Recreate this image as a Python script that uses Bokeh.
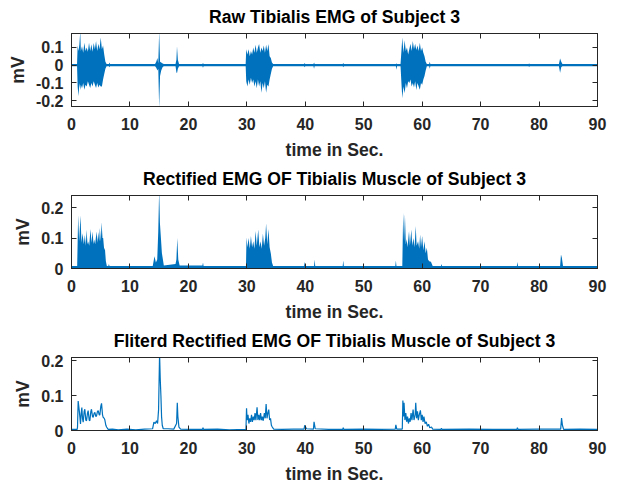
from bokeh.plotting import figure
from bokeh.layouts import column
from bokeh.models import Range1d, FixedTicker, LinearAxis, CustomLabelingPolicy
from bokeh.embed import file_html
from bokeh.resources import INLINE

# ---------------- data ----------------
x_ticks = [0, 10, 20, 30, 40, 50, 60, 70, 80, 90]

raw_yticks = [-0.2, -0.1, 0, 0.1]
raw_ylabels = ["-0.2", "-0.1", "0", "0.1"]
rect_yticks = [0, 0.1, 0.2]
rect_ylabels = ["0", "0.1", "0.2"]
filt_yticks = [0, 0.1, 0.2]
filt_ylabels = ["0", "0.1", "0.2"]

# raw EMG envelope: time, upper edge, lower edge (mV)
raw_t = [0, 0.95, 1.05, 1.2, 1.35, 1.5, 1.6, 1.8, 2.0, 2.2, 2.4, 2.6, 2.8, 3.0, 3.2, 3.4, 3.6, 3.8, 4.0, 4.2,
         4.4, 4.6, 4.8, 5.0, 5.2, 5.4, 5.6, 5.8, 6.0,
         6.4, 6.5, 6.6, 14.3, 14.5, 14.7, 14.85, 15.0, 15.15, 15.35, 15.6, 15.8, 17.8, 17.95, 18.05, 18.2, 18.4,
         22.4, 22.5, 22.6, 29.8,
         29.9, 30.1, 30.3, 30.5, 30.7, 30.9, 31.1, 31.3, 31.5, 31.7, 31.9, 32.1, 32.3, 32.5, 32.7, 32.9, 33.1,
         33.3, 33.5, 33.7, 33.9, 34.1, 34.3, 34.5,
         39.8, 39.9, 40.0, 41.4, 41.5, 41.6, 46.4, 46.5, 46.6, 55.5, 55.6, 55.7, 56.3,
         56.45, 56.6, 56.8, 57.0, 57.2, 57.4, 57.6, 57.8, 58.0, 58.2, 58.4, 58.6, 58.8, 59.0, 59.2, 59.4, 59.6,
         59.8, 60.0, 60.2, 60.4, 60.6, 60.8,
         61.2, 61.3, 61.4, 78.2, 78.3, 78.4, 83.4, 83.6, 83.8, 84.0, 90]
raw_hi = [0.006, 0.006, 0.11, 0.08, 0.117, 0.19, 0.08, 0.107, 0.07, 0.126, 0.08, 0.10, 0.075, 0.126, 0.08, 0.117,
          0.075, 0.125, 0.09, 0.136, 0.08, 0.12, 0.09, 0.155, 0.09, 0.11, 0.06, 0.02, 0.006,
          0.006, 0.015, 0.006, 0.006, 0.02, 0.04, 0.01, 0.19, 0.02, 0.015, 0.01, 0.006, 0.006, 0.03, 0.107, 0.03,
          0.006, 0.006, 0.012, 0.006, 0.006,
          0.09, 0.06, 0.09, 0.05, 0.08, 0.06, 0.10, 0.07, 0.115, 0.07, 0.10, 0.119, 0.07, 0.10, 0.08, 0.11, 0.07,
          0.115, 0.08, 0.119, 0.05, 0.04, 0.015, 0.006,
          0.006, 0.012, 0.006, 0.006, 0.015, 0.006, 0.006, 0.012, 0.006, 0.006, 0.01, 0.006, 0.006,
          0.08, 0.155, 0.07, 0.14, 0.08, 0.10, 0.06, 0.09, 0.12, 0.08, 0.136, 0.09, 0.12, 0.085, 0.11, 0.08, 0.126,
          0.08, 0.10, 0.07, 0.05, 0.02, 0.006,
          0.006, 0.02, 0.006, 0.006, 0.01, 0.006, 0.006, 0.038, 0.02, 0.006, 0.006]
raw_lo = [-0.006, -0.006, -0.12, -0.175, -0.10, -0.14, -0.11, -0.13, -0.10, -0.138, -0.11, -0.12, -0.09, -0.11,
          -0.128, -0.10, -0.12, -0.09, -0.11, -0.128, -0.10, -0.125, -0.11, -0.12, -0.12, -0.08, -0.05, -0.02, -0.006,
          -0.006, -0.012, -0.006, -0.006, -0.015, -0.03, -0.02, -0.24, -0.06, -0.03, -0.01, -0.006, -0.006, -0.04,
          -0.045, -0.02, -0.006, -0.006, -0.014, -0.006, -0.006,
          -0.09, -0.12, -0.08, -0.11, -0.07, -0.10, -0.08, -0.12, -0.09, -0.13, -0.08, -0.12, -0.09, -0.155, -0.10,
          -0.13, -0.09, -0.155, -0.11, -0.12, -0.08, -0.05, -0.02, -0.006,
          -0.006, -0.012, -0.006, -0.006, -0.02, -0.006, -0.006, -0.012, -0.006, -0.006, -0.025, -0.006, -0.006,
          -0.10, -0.185, -0.12, -0.157, -0.10, -0.13, -0.09, -0.10, -0.08, -0.12, -0.10, -0.125, -0.09, -0.14,
          -0.10, -0.12, -0.138, -0.10, -0.11, -0.08, -0.06, -0.03, -0.006,
          -0.006, -0.02, -0.006, -0.006, -0.01, -0.006, -0.006, -0.043, -0.01, -0.006, -0.006]

# rectified EMG upper edge (mV)
rect_t = [0, 0.97, 1.14, 1.31, 1.54, 1.71, 1.88, 2.11, 2.28, 2.45, 2.57, 2.74, 2.85, 3.03, 3.25, 3.42, 3.6, 3.77,
          3.88, 4.05, 4.28, 4.45, 4.57, 4.74, 4.85, 5.02, 5.14, 5.31, 5.42, 5.6, 5.71, 5.88, 6.05,
          6.3, 6.4, 6.5, 13.9, 14.2, 14.44, 14.67, 14.84, 15.0, 15.13, 15.3, 15.47, 15.64, 15.8, 17.8, 17.95, 18.1,
          18.27, 18.5, 22.4, 22.5, 22.6, 29.8,
          29.85, 29.95, 30.1, 30.3, 30.5, 30.7, 30.9, 31.1, 31.3, 31.5, 31.7, 31.95, 32.15, 32.35, 32.55, 32.75,
          32.95, 33.15, 33.3, 33.5, 33.7, 33.9, 34.1, 34.3, 34.5,
          39.8, 39.9, 40.0, 41.5, 41.6, 41.7, 46.4, 46.5, 46.6, 55.4, 55.5, 55.6, 56.6,
          56.75, 56.9, 57.05, 57.2, 57.35, 57.5, 57.75, 57.9, 58.15, 58.3, 58.5, 58.7, 58.9, 59.05, 59.3, 59.5,
          59.65, 59.8, 60.0, 60.2, 60.4, 60.6, 60.8, 61.0, 61.2, 61.5, 61.8,
          63.2, 63.3, 63.4, 76.2, 76.3, 76.4, 83.6, 83.75, 83.9, 84.1, 90]
rect_hi = [0.008, 0.008, 0.176, 0.09, 0.174, 0.085, 0.116, 0.08, 0.11, 0.075, 0.127, 0.08, 0.089, 0.075, 0.13,
           0.085, 0.122, 0.08, 0.095, 0.08, 0.122, 0.085, 0.12, 0.09, 0.133, 0.09, 0.152, 0.1, 0.1, 0.06, 0.068,
           0.024, 0.008,
           0.008, 0.015, 0.008, 0.008, 0.04, 0.02, 0.03, 0.12, 0.26, 0.15, 0.1, 0.05, 0.03, 0.01, 0.015, 0.03, 0.1,
           0.03, 0.01, 0.01, 0.02, 0.008, 0.008,
           0.008, 0.103, 0.07, 0.10, 0.065, 0.107, 0.07, 0.09, 0.065, 0.123, 0.075, 0.128, 0.07, 0.09, 0.065, 0.115,
           0.075, 0.10, 0.148, 0.08, 0.13, 0.07, 0.05, 0.02, 0.008,
           0.008, 0.022, 0.008, 0.008, 0.03, 0.008, 0.008, 0.026, 0.008, 0.008, 0.026, 0.008, 0.008,
           0.183, 0.09, 0.178, 0.08, 0.096, 0.07, 0.123, 0.075, 0.128, 0.075, 0.10, 0.07, 0.14, 0.075, 0.09, 0.065,
           0.112, 0.07, 0.107, 0.06, 0.09, 0.05, 0.068, 0.03, 0.024, 0.022, 0.008,
           0.008, 0.015, 0.008, 0.008, 0.021, 0.008, 0.008, 0.046, 0.035, 0.008, 0.008]

# filtered rectified EMG (mV)
filt_t = [0, 0.97, 1.03, 1.14, 1.31, 1.43, 1.54, 1.66, 1.77, 1.88, 2.0, 2.17, 2.28, 2.45, 2.57, 2.74, 2.85, 3.03,
          3.14, 3.31, 3.42, 3.6, 3.71, 3.88, 4.0, 4.17, 4.28, 4.45, 4.57, 4.74, 4.85, 5.02, 5.14, 5.31, 5.42, 5.6,
          5.71, 5.88, 6.0, 6.28,
          7.0, 8.0, 9.5, 11.0, 12.5, 13.87, 14.1, 14.33, 14.55, 14.73, 14.9, 15.07, 15.18, 15.3, 15.41, 15.53, 15.7,
          16.5, 17.5, 17.98, 18.1, 18.2, 18.38, 18.67, 20.5, 22.4, 22.5, 22.6, 25.0, 27.0, 29.85,
          29.95, 30.05, 30.2, 30.35, 30.5, 30.65, 30.8, 30.95, 31.1, 31.25, 31.4, 31.55, 31.75, 31.9, 32.05, 32.2,
          32.35, 32.5, 32.65, 32.8, 33.0, 33.15, 33.3, 33.45, 33.6, 33.75, 33.9, 34.05, 34.2, 34.35, 34.6,
          36.0, 38.0, 39.8, 39.9, 40.2, 41.4, 41.5, 41.7, 44.0, 46.4, 46.5, 46.6, 50.0, 53.0, 55.4, 55.5, 55.65, 56.6,
          56.7, 56.8, 56.9, 57.05, 57.2, 57.35, 57.5, 57.65, 57.8, 57.95, 58.1, 58.25, 58.45, 58.6, 58.8, 58.9,
          59.05, 59.2, 59.35, 59.5, 59.7, 59.85, 60.0, 60.15, 60.3, 60.5, 60.7, 60.9, 61.1, 61.3, 61.6, 61.8,
          63.2, 63.3, 63.4, 68.0, 72.0, 76.2, 76.3, 76.4, 80.0, 83.7, 83.85, 84.0, 84.2, 87.0, 90]
filt_v = [0.003, 0.003, 0.01, 0.085, 0.06, 0.04, 0.019, 0.05, 0.066, 0.035, 0.024, 0.055, 0.061, 0.03, 0.028, 0.05,
          0.057, 0.03, 0.028, 0.055, 0.061, 0.04, 0.038, 0.05, 0.052, 0.04, 0.042, 0.055, 0.057, 0.045, 0.045, 0.07,
          0.078, 0.045, 0.038, 0.035, 0.03, 0.015, 0.01, 0.003,
          0.004, 0.002, 0.004, 0.002, 0.004, 0.005, 0.024, 0.02, 0.028, 0.02, 0.06, 0.22, 0.15, 0.1, 0.04, 0.015,
          0.005, 0.005, 0.004, 0.02, 0.08, 0.04, 0.01, 0.004, 0.003, 0.003, 0.008, 0.003, 0.004, 0.002, 0.003,
          0.064, 0.03, 0.045, 0.02, 0.035, 0.025, 0.045, 0.025, 0.04, 0.03, 0.05, 0.03, 0.067, 0.03, 0.045, 0.03,
          0.05, 0.03, 0.04, 0.028, 0.05, 0.035, 0.076, 0.035, 0.05, 0.06, 0.03, 0.035, 0.015, 0.01, 0.004,
          0.003, 0.004, 0.004, 0.015, 0.005, 0.004, 0.025, 0.005, 0.003, 0.003, 0.008, 0.003, 0.004, 0.003, 0.004,
          0.016, 0.004, 0.004,
          0.086, 0.04, 0.08, 0.03, 0.05, 0.025, 0.04, 0.02, 0.035, 0.025, 0.05, 0.03, 0.06, 0.03, 0.045, 0.08,
          0.035, 0.055, 0.03, 0.045, 0.058, 0.03, 0.045, 0.025, 0.04, 0.02, 0.025, 0.012, 0.018, 0.008, 0.01, 0.004,
          0.003, 0.006, 0.003, 0.004, 0.003, 0.003, 0.008, 0.003, 0.004, 0.004, 0.036, 0.015, 0.003, 0.004, 0.003]

# ---------------- styling ----------------
BLUE = "#0072BD"
AX = "#262626"
FONT = "Liberation Sans"

# mirror axes (top / right) show tick marks only: drop every label
NO_LABELS = """
try { for (let i = 0; i < indices.size; i++) { indices.unset(i) } } catch (e) {}
return indices
"""


def make_panel(title, y_lo, y_hi, yticks, ylabels):
    p = figure(width=618, height=162, x_range=Range1d(0, 90), y_range=Range1d(y_lo, y_hi),
               output_backend="svg", toolbar_location=None, title=title,
               min_border_left=71, min_border_right=21, min_border_top=33, min_border_bottom=56)
    p.background_fill_color = "white"
    p.border_fill_color = "white"
    p.grid.visible = False
    p.outline_line_color = AX
    p.outline_line_width = 1
    t = p.title
    t.text_font = FONT
    t.text_font_size = "17.6px"
    t.text_font_style = "bold"
    t.text_color = "black"
    t.align = "center"
    t.standoff = 5

    xa = p.xaxis[0]
    xa.ticker = FixedTicker(ticks=x_ticks)
    xa.axis_label = "time in Sec."
    ya = p.yaxis[0]
    ya.ticker = FixedTicker(ticks=yticks)
    ya.major_label_overrides = {tk: lb for tk, lb in zip(yticks, ylabels)}
    ya.axis_label = "mV"
    for ax in (xa, ya):
        ax.axis_line_color = AX
        ax.major_tick_line_color = AX
        ax.major_tick_in = 5
        ax.major_tick_out = 0
        ax.minor_tick_in = 0
        ax.minor_tick_out = 0
        ax.major_label_text_font = FONT
        ax.major_label_text_font_size = "16px"
        ax.major_label_text_font_style = "bold"
        ax.major_label_text_color = AX
        ax.axis_label_text_font = FONT
        ax.axis_label_text_font_size = "17.6px"
        ax.axis_label_text_font_style = "bold"
        ax.axis_label_text_color = AX
    xa.major_label_standoff = 11
    xa.axis_label_standoff = 7
    ya.major_label_standoff = 8
    ya.axis_label_standoff = 5

    top = LinearAxis(ticker=FixedTicker(ticks=x_ticks))
    right = LinearAxis(ticker=FixedTicker(ticks=yticks))
    for ax in (top, right):
        ax.axis_line_color = AX
        ax.major_tick_line_color = AX
        ax.major_tick_in = 5
        ax.major_tick_out = 0
        ax.minor_tick_in = 0
        ax.minor_tick_out = 0
        ax.major_label_text_font_size = "1px"
        ax.major_label_standoff = 0
        ax.major_label_policy = CustomLabelingPolicy(code=NO_LABELS)
    p.add_layout(top, "above")
    p.add_layout(right, "right")
    return p


p1 = make_panel("Raw Tibialis EMG of Subject 3", -0.232, 0.178, raw_yticks, raw_ylabels)
p1.varea(x=raw_t, y1=raw_lo, y2=raw_hi, fill_color=BLUE)

p2 = make_panel("Rectified EMG OF Tibialis Muscle of Subject 3", 0, 0.24, rect_yticks, rect_ylabels)
p2.varea(x=rect_t, y1=[0] * len(rect_t), y2=rect_hi, fill_color=BLUE)

p3 = make_panel("Fliterd Rectified EMG OF Tibialis Muscle of Subject 3", 0, 0.21, filt_yticks, filt_ylabels)
p3.line(x=filt_t, y=filt_v, line_color=BLUE, line_width=1.2)

layout = column(p1, p2, p3)
open("out.html", "w").write(file_html(layout, INLINE))
